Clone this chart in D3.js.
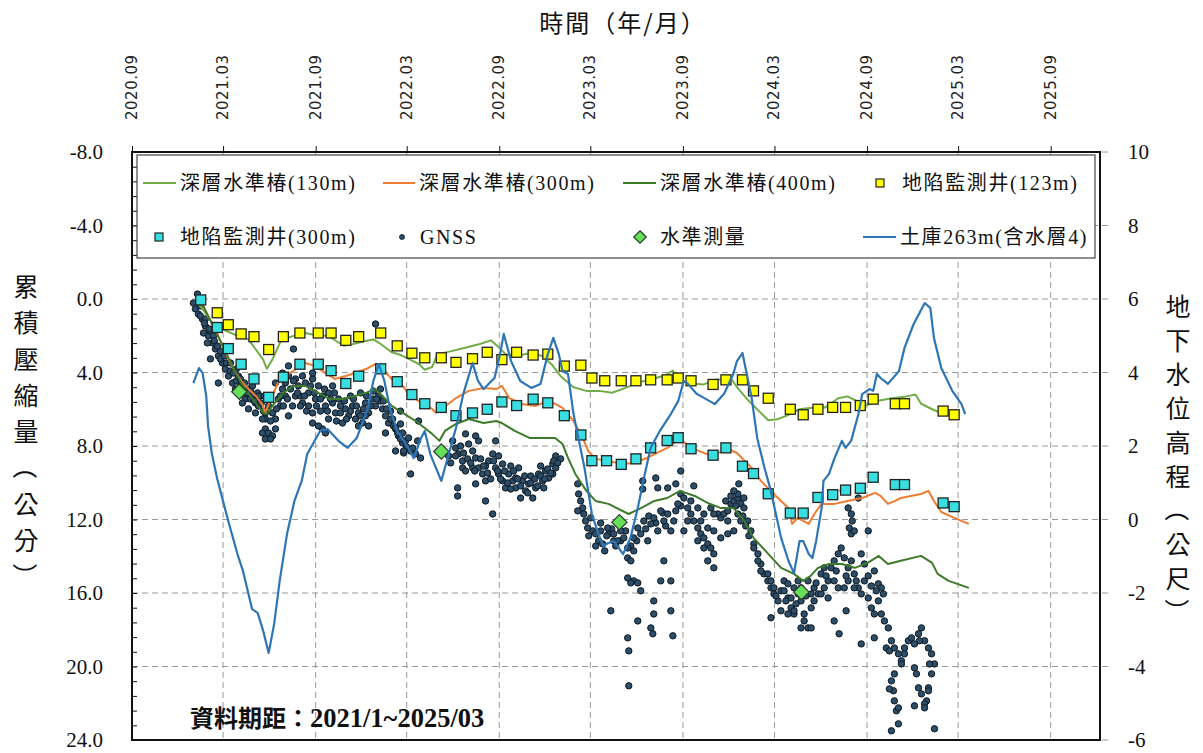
<!DOCTYPE html>
<html><head><meta charset="utf-8">
<script src="https://cdn.jsdelivr.net/npm/d3@7"></script>
<style>body{margin:0;background:#fff}svg{display:block}</style>
</head><body>
<svg id="c" width="1203" height="753"></svg>
<script>
// ---------- data ----------
const xTickDates = ["2020-09-01","2021-03-01","2021-09-01","2022-03-01","2022-09-01","2023-03-01","2023-09-01","2024-03-01","2024-09-01","2025-03-01","2025-09-01"];
const xTickLabels = ["2020.09","2021.03","2021.09","2022.03","2022.09","2023.03","2023.09","2024.03","2024.09","2025.03","2025.09"];
const leftTicks = [-8,-4,0,4,8,12,16,20,24];
const rightTicks = [10,8,6,4,2,0,-2,-4,-6];

// [decimal year, cm]
const bm130 = [[2021.01,0],[2021.05,0.55],[2021.10,1.25],[2021.16,1.65],[2021.24,2.0],[2021.30,2.2],[2021.34,2.75],[2021.38,3.3],[2021.40,3.8],[2021.43,3.3],[2021.48,2.2],[2021.55,2.0],[2021.61,1.85],[2021.68,2.0],[2021.73,2.0],[2021.78,2.3],[2021.82,2.55],[2021.87,2.45],[2021.93,2.3],[2021.98,2.2],[2022.02,2.45],[2022.08,2.9],[2022.13,3.05],[2022.18,3.3],[2022.23,3.55],[2022.26,3.85],[2022.30,3.7],[2022.33,3.0],[2022.40,2.85],[2022.48,2.65],[2022.56,2.45],[2022.62,2.25],[2022.66,2.6],[2022.70,3.0],[2022.76,3.1],[2022.83,2.95],[2022.90,3.1],[2022.95,3.55],[2023.00,4.2],[2023.07,4.8],[2023.14,5.0],[2023.21,5.0],[2023.28,5.1],[2023.35,4.85],[2023.42,4.55],[2023.50,4.35],[2023.57,4.15],[2023.61,3.9],[2023.65,4.45],[2023.71,4.6],[2023.78,4.65],[2023.84,4.4],[2023.93,4.35],[2023.96,4.8],[2024.02,5.5],[2024.08,6.1],[2024.13,6.6],[2024.18,6.55],[2024.24,6.3],[2024.30,6.0],[2024.38,5.9],[2024.44,5.9],[2024.51,5.4],[2024.56,5.3],[2024.61,5.55],[2024.66,5.8],[2024.72,5.55],[2024.80,5.4],[2024.88,5.3],[2024.93,5.2],[2024.96,5.7],[2025.02,6.0],[2025.08,6.25],[2025.13,6.3]];
const bm300 = [[2021.04,0.11],[2021.08,0.92],[2021.12,1.63],[2021.16,2.56],[2021.19,3.26],[2021.23,4.02],[2021.27,4.57],[2021.30,4.9],[2021.34,5.28],[2021.38,5.82],[2021.39,6.2],[2021.43,5.28],[2021.46,4.57],[2021.50,4.19],[2021.56,3.81],[2021.61,3.48],[2021.66,3.64],[2021.72,4.03],[2021.77,4.35],[2021.83,4.19],[2021.88,4.03],[2021.94,3.81],[2021.99,3.54],[2022.03,3.81],[2022.08,4.35],[2022.14,4.73],[2022.17,5.17],[2022.25,5.71],[2022.30,5.98],[2022.32,6.2],[2022.36,5.93],[2022.43,5.39],[2022.50,5.0],[2022.58,4.84],[2022.65,4.9],[2022.68,4.73],[2022.72,5.39],[2022.79,5.71],[2022.86,5.82],[2022.93,5.55],[2022.97,5.71],[2023.01,5.93],[2023.07,6.64],[2023.12,7.56],[2023.15,8.27],[2023.19,8.7],[2023.26,8.81],[2023.33,8.98],[2023.40,8.92],[2023.47,8.65],[2023.58,8.1],[2023.65,7.62],[2023.71,8.1],[2023.82,8.54],[2023.91,8.16],[2023.96,8.38],[2024.04,9.19],[2024.09,9.9],[2024.16,10.61],[2024.24,11.37],[2024.26,12.24],[2024.29,11.91],[2024.32,12.08],[2024.35,12.24],[2024.38,11.7],[2024.42,11.15],[2024.49,11.15],[2024.56,10.99],[2024.64,10.83],[2024.71,10.55],[2024.74,10.72],[2024.78,11.15],[2024.82,10.99],[2024.85,10.83],[2024.96,10.61],[2025.00,10.44],[2025.03,10.99],[2025.07,11.59],[2025.14,11.91],[2025.22,12.24]];
const bm400 = [[2021.04,0.11],[2021.08,0.92],[2021.16,2.56],[2021.23,4.03],[2021.28,4.9],[2021.34,5.66],[2021.38,6.2],[2021.40,6.26],[2021.43,5.82],[2021.49,5.11],[2021.54,4.73],[2021.61,4.73],[2021.68,5.11],[2021.74,5.44],[2021.81,5.44],[2021.88,5.28],[2021.94,5.11],[2021.99,4.9],[2022.03,5.28],[2022.08,5.82],[2022.14,6.2],[2022.21,6.64],[2022.26,7.02],[2022.30,7.34],[2022.34,7.72],[2022.37,7.18],[2022.43,6.8],[2022.50,6.53],[2022.58,6.75],[2022.65,6.64],[2022.68,6.75],[2022.75,7.18],[2022.83,7.56],[2022.90,7.56],[2022.97,7.56],[2023.01,7.89],[2023.04,8.65],[2023.08,9.52],[2023.14,10.44],[2023.19,10.99],[2023.26,11.15],[2023.37,11.7],[2023.44,11.37],[2023.51,10.99],[2023.58,10.83],[2023.65,10.44],[2023.73,10.72],[2023.80,11.1],[2023.87,11.37],[2023.94,11.37],[2024.00,12.08],[2024.05,13.0],[2024.13,13.87],[2024.20,14.63],[2024.27,14.96],[2024.32,15.34],[2024.36,15.07],[2024.40,14.63],[2024.46,14.42],[2024.53,14.42],[2024.60,14.63],[2024.67,14.36],[2024.73,13.98],[2024.78,14.42],[2024.85,14.25],[2024.96,13.98],[2025.02,14.36],[2025.05,14.96],[2025.11,15.34],[2025.22,15.72]];
const well123 = [[2021.13,0.75],[2021.19,1.4],[2021.26,1.9],[2021.33,2.05],[2021.41,2.75],[2021.49,2.05],[2021.58,1.85],[2021.68,1.85],[2021.75,1.85],[2021.83,2.25],[2021.90,2.05],[2022.02,1.85],[2022.11,2.55],[2022.19,2.95],[2022.26,3.2],[2022.35,3.2],[2022.43,3.45],[2022.52,3.25],[2022.60,2.9],[2022.68,3.3],[2022.76,2.9],[2022.85,3.05],[2022.93,3.0],[2023.02,3.65],[2023.11,3.6],[2023.17,4.3],[2023.24,4.45],[2023.33,4.45],[2023.41,4.45],[2023.49,4.4],[2023.58,4.4],[2023.64,4.3],[2023.71,4.45],[2023.83,4.65],[2023.90,4.4],[2023.99,4.4],[2024.05,5.0],[2024.13,5.4],[2024.25,6.0],[2024.32,6.3],[2024.40,6.0],[2024.48,5.9],[2024.55,5.9],[2024.63,5.8],[2024.70,5.45],[2024.82,5.7],[2024.87,5.7],[2025.08,6.1],[2025.14,6.3]];
const well300 = [[2021.04,0.05],[2021.13,1.55],[2021.19,2.7],[2021.26,3.55],[2021.33,4.35],[2021.41,5.35],[2021.49,4.25],[2021.58,3.55],[2021.68,3.55],[2021.75,3.9],[2021.83,4.6],[2021.90,4.2],[2022.02,3.8],[2022.11,4.5],[2022.19,5.2],[2022.26,5.7],[2022.35,5.9],[2022.43,6.35],[2022.52,6.2],[2022.60,6.0],[2022.68,5.6],[2022.76,5.8],[2022.85,5.45],[2022.93,5.65],[2023.02,6.35],[2023.11,7.4],[2023.17,8.8],[2023.25,8.8],[2023.33,9.0],[2023.41,8.7],[2023.49,8.1],[2023.58,7.7],[2023.64,7.55],[2023.71,8.15],[2023.83,8.5],[2023.90,8.1],[2023.99,9.1],[2024.05,9.5],[2024.13,10.6],[2024.25,11.65],[2024.32,11.65],[2024.40,10.8],[2024.48,10.65],[2024.55,10.4],[2024.63,10.3],[2024.70,9.7],[2024.82,10.1],[2024.87,10.1],[2025.08,11.1],[2025.14,11.3]];
const leveling = [[2021.25,5.05],[2022.35,8.3],[2023.32,12.15],[2024.31,15.95]];
// [decimal year, m] (right axis)
const tuku263 = [[2021.00,3.71],[2021.03,4.12],[2021.05,3.99],[2021.07,3.36],[2021.08,2.54],[2021.10,1.81],[2021.13,1.10],[2021.19,-0.04],[2021.24,-0.94],[2021.27,-1.40],[2021.32,-2.44],[2021.35,-2.54],[2021.38,-3.03],[2021.41,-3.63],[2021.44,-2.84],[2021.47,-1.67],[2021.51,-0.39],[2021.55,0.50],[2021.57,0.78],[2021.59,1.05],[2021.62,1.78],[2021.69,2.41],[2021.73,2.46],[2021.79,2.14],[2021.84,1.95],[2021.89,2.22],[2021.95,3.03],[2021.98,3.77],[2022.01,4.23],[2022.04,3.77],[2022.07,3.03],[2022.11,2.41],[2022.17,1.95],[2022.20,1.67],[2022.24,2.22],[2022.26,2.41],[2022.29,1.78],[2022.35,1.05],[2022.38,1.59],[2022.43,2.49],[2022.47,3.42],[2022.52,4.26],[2022.55,3.77],[2022.58,3.55],[2022.64,3.85],[2022.67,4.50],[2022.69,5.05],[2022.73,4.31],[2022.78,3.77],[2022.84,3.58],[2022.89,3.69],[2022.93,4.50],[2022.96,4.94],[2022.99,4.50],[2023.01,4.04],[2023.04,3.96],[2023.07,2.87],[2023.13,1.40],[2023.17,0.15],[2023.20,-0.31],[2023.23,-0.72],[2023.26,-0.64],[2023.29,-0.59],[2023.34,-0.94],[2023.38,-0.50],[2023.42,0.31],[2023.45,1.05],[2023.49,1.95],[2023.54,2.41],[2023.60,2.87],[2023.64,3.22],[2023.67,3.77],[2023.69,3.71],[2023.74,3.42],[2023.78,3.31],[2023.84,3.14],[2023.89,3.42],[2023.94,3.96],[2023.96,4.31],[2023.99,4.53],[2024.01,4.04],[2024.04,3.31],[2024.07,2.22],[2024.11,1.40],[2024.14,0.86],[2024.18,-0.04],[2024.20,-0.50],[2024.24,-1.13],[2024.27,-1.46],[2024.30,-0.59],[2024.32,-0.59],[2024.35,-0.94],[2024.37,-1.05],[2024.39,-0.59],[2024.42,0.31],[2024.43,1.05],[2024.46,1.24],[2024.49,1.67],[2024.53,2.14],[2024.55,1.95],[2024.58,2.14],[2024.62,2.87],[2024.64,3.41],[2024.68,3.55],[2024.70,3.50],[2024.72,3.96],[2024.74,3.85],[2024.78,3.69],[2024.84,4.04],[2024.87,4.67],[2024.92,5.32],[2024.98,5.89],[2025.01,5.76],[2025.03,4.94],[2025.07,4.12],[2025.13,3.50],[2025.18,3.14],[2025.20,2.87]];
// GNSS [decimal year, cm]
const gnss = [[2021.022,-0.27],[2021.000,0.22],[2021.011,0.54],[2021.027,0.82],[2021.049,1.09],[2021.038,0.38],[2021.065,1.47],[2021.055,1.85],[2021.082,2.01],[2021.104,2.39],[2021.076,2.39],[2021.120,2.72],[2021.093,3.26],[2021.136,3.10],[2021.158,3.48],[2021.174,3.81],[2021.136,4.57],[2021.191,4.19],[2021.213,4.57],[2021.229,4.90],[2021.245,4.19],[2021.267,5.11],[2021.283,5.44],[2021.267,5.66],[2021.300,4.90],[2021.322,5.28],[2021.338,5.66],[2021.354,5.82],[2021.322,4.73],[2021.349,5.11],[2021.300,5.98],[2021.392,6.20],[2021.392,6.53],[2021.431,6.20],[2021.447,6.53],[2021.409,5.82],[2021.392,7.07],[2021.376,7.29],[2021.409,7.29],[2021.431,7.45],[2021.392,7.62],[2021.420,7.62],[2021.447,7.07],[2021.463,5.44],[2021.485,4.90],[2021.501,4.57],[2021.518,4.19],[2021.501,5.28],[2021.540,5.82],[2021.518,6.36],[2021.556,5.28],[2021.572,4.73],[2021.594,4.19],[2021.610,4.57],[2021.627,5.11],[2021.649,4.35],[2021.594,5.66],[2021.627,5.82],[2021.665,5.44],[2021.649,6.20],[2021.681,4.73],[2021.703,5.28],[2021.719,5.82],[2021.736,5.11],[2021.758,5.66],[2021.703,7.07],[2021.736,6.53],[2021.774,6.20],[2021.790,5.44],[2021.812,6.75],[2021.828,5.98],[2021.845,6.36],[2021.867,5.82],[2021.883,6.53],[2021.899,6.20],[2021.921,6.75],[2021.937,5.66],[2021.954,6.20],[2021.976,5.44],[2021.992,5.82],[2022.008,5.28],[2022.030,5.98],[2022.046,6.36],[2022.063,6.75],[2022.085,6.53],[2022.101,7.07],[2022.117,7.45],[2022.139,7.83],[2022.145,8.38],[2021.992,1.36],[2021.545,2.72],[2021.447,4.57],[2021.485,4.03],[2021.518,3.64],[2021.649,4.03],[2021.758,4.73],[2021.681,6.91],[2021.649,6.75],[2021.719,7.29],[2021.954,6.91],[2021.899,6.91],[2022.046,7.29],
[2021.038,0.92],[2021.065,1.09],[2021.093,1.74],[2021.109,2.01],[2021.147,2.83],[2021.202,3.92],[2021.234,4.46],[2021.256,4.73],[2021.311,5.44],[2021.365,5.28],[2021.338,6.20],[2021.376,6.53],[2021.474,5.82],[2021.556,4.35],[2021.583,5.28],[2021.692,6.10],[2021.801,5.82],[2021.856,5.28],[2021.910,5.11],[2021.937,6.36],[2022.019,5.55],[2022.074,6.10],
[2021.060,1.31],[2021.087,1.63],[2021.114,2.28],[2021.131,2.56],[2021.147,3.26],[2021.169,3.10],[2021.180,3.48],[2021.202,3.48],[2021.218,4.03],[2021.234,3.81],[2021.256,4.35],[2021.278,4.57],[2021.289,5.11],[2021.311,5.01],[2021.332,5.55],[2021.354,5.28],[2021.370,5.66],[2021.381,6.09],[2021.420,6.64],[2021.452,5.98],[2021.474,5.28],[2021.490,5.82],[2021.512,5.44],[2021.529,4.90],[2021.545,4.46],[2021.567,5.11],[2021.583,5.82],[2021.605,5.28],[2021.616,6.10],[2021.638,4.73],[2021.659,5.11],[2021.670,5.82],[2021.692,5.44],[2021.714,4.90],[2021.730,6.10],[2021.747,5.44],[2021.768,5.11],[2021.779,6.64],[2021.801,6.20],[2021.823,5.55],[2021.834,6.53],[2021.856,6.10],[2021.872,5.44],[2021.888,5.82],[2021.910,6.36],[2021.926,5.98],[2021.943,5.28],[2021.965,5.82],[2021.981,5.01],[2021.997,5.44],[2022.019,4.90],[2022.035,5.55],[2022.052,5.98],[2022.074,6.53],[2022.090,6.91],[2022.112,7.29],[2022.128,7.62],[2022.161,8.05],[2022.183,8.27],
[2022.101,7.02],[2022.128,6.80],[2022.139,7.29],[2022.155,7.72],[2022.172,7.56],[2022.194,8.11],[2022.210,8.43],[2022.183,9.52],[2022.221,7.72],[2022.226,6.64],[2022.237,8.65],[2022.128,6.10],[2022.101,8.27],[2022.145,8.27],
[2022.412,7.72],[2022.428,8.11],[2022.444,8.43],[2022.466,8.81],[2022.482,7.34],[2022.499,7.89],[2022.521,8.27],[2022.537,8.65],[2022.553,7.72],[2022.466,9.19],[2022.521,9.19],[2022.553,9.19],[2022.575,9.52],[2022.537,10.06],[2022.591,9.90],[2022.608,8.81],[2022.630,8.43],[2022.646,9.19],[2022.662,9.52],[2022.684,9.90],[2022.700,10.28],[2022.684,8.98],[2022.717,9.52],[2022.739,9.90],[2022.755,10.28],[2022.771,9.19],[2022.793,9.90],[2022.809,10.44],[2022.826,10.06],[2022.848,10.83],[2022.864,10.28],[2022.880,9.52],[2022.902,9.90],[2022.918,9.36],[2022.935,9.74],[2022.957,8.98],[2022.973,9.19],[2022.439,10.28],[2022.439,10.72],[2022.630,11.70],[2022.591,10.99],[2022.537,7.45],[2022.646,7.72],[2022.755,9.74],[2022.908,10.28],[2022.957,9.52],[2022.390,8.54],[2022.401,8.92],[2022.482,9.36],[2022.591,9.09],[2022.728,9.09],[2022.837,9.63],[2022.891,9.09],[2022.973,8.54],[2023.000,8.70],[2022.662,8.54],[2022.782,10.83],
[2022.428,8.54],[2022.455,8.00],[2022.471,8.38],[2022.493,8.70],[2022.510,8.92],[2022.532,9.36],[2022.564,8.70],[2022.580,9.09],[2022.602,9.47],[2022.619,9.79],[2022.635,8.81],[2022.657,9.36],[2022.673,9.79],[2022.695,9.36],[2022.711,10.01],[2022.728,10.34],[2022.744,9.36],[2022.766,9.79],[2022.782,10.17],[2022.804,9.63],[2022.820,10.55],[2022.837,10.01],[2022.859,9.79],[2022.875,10.17],[2022.891,9.63],[2022.913,9.79],[2022.929,9.25],[2022.946,9.47],[2022.962,8.81],[2022.984,8.92],
[2023.093,10.06],[2023.098,10.61],[2023.109,10.99],[2023.120,11.37],[2023.126,11.70],[2023.136,12.08],[2023.147,12.46],[2023.164,11.91],[2023.175,12.62],[2023.191,12.78],[2023.207,13.16],[2023.229,13.33],[2023.262,12.78],[2023.289,13.16],[2023.093,11.53],[2023.218,12.19],[2023.153,12.89],[2023.191,13.44],[2023.240,13.71],
[2023.251,12.89],[2023.278,12.51],[2023.300,13.44],[2023.327,13.16],[2023.354,12.62],[2023.382,13.44],[2023.414,13.16],[2023.463,12.51],[2023.480,11.81],[2023.518,12.19],[2023.556,11.64],[2023.572,12.35],[2023.627,11.53],[2023.654,11.26],
[2023.218,12.62],[2023.256,12.46],[2023.289,12.78],[2023.311,13.16],[2023.327,12.62],[2023.344,13.00],[2023.365,13.55],[2023.365,14.09],[2023.382,14.25],[2023.398,13.71],[2023.398,13.00],[2023.420,12.46],[2023.436,12.78],[2023.453,12.08],[2023.474,13.16],[2023.491,12.24],[2023.507,11.91],[2023.529,12.62],[2023.545,11.53],[2023.562,12.08],[2023.583,11.70],[2023.600,12.62],[2023.616,12.08],[2023.638,11.15],[2023.654,10.61],[2023.671,10.83],[2023.692,11.37],[2023.709,11.70],[2023.725,12.08],[2023.747,12.46],[2023.763,12.78],[2023.780,13.00],[2023.801,13.33],[2023.818,13.55],[2023.834,13.87],[2023.856,11.70],[2023.872,11.91],[2023.889,11.70],[2023.910,11.53],[2023.927,11.15],[2023.943,10.99],[2023.965,10.83],[2023.981,11.15],[2023.998,11.37],[2024.019,12.08],[2024.036,12.62],[2024.052,13.33],[2024.074,13.87],[2024.090,14.42],[2024.107,14.96],[2024.128,15.34],[2024.145,15.72],[2024.161,16.05],[2024.183,16.43],[2024.199,15.88],[2024.216,15.34],[2024.237,16.27],[2024.254,16.81],[2024.270,17.14],[2024.292,16.05],[2024.308,16.43],[2024.325,17.14],[2024.346,17.90],[2024.363,16.81],[2024.379,15.72],[2024.401,16.05],[2024.417,14.96],[2024.434,14.63],[2024.455,15.34],[2024.472,14.63],[2024.488,14.25],[2024.510,13.87],[2024.526,13.55],[2024.543,14.09],[2024.564,14.63],[2024.581,14.25],[2024.597,14.96],[2024.619,15.72],[2024.635,16.05],[2024.652,15.34],[2024.673,16.27],[2024.690,16.81],[2024.706,17.14],[2024.728,16.43],[2024.744,17.14],[2024.761,17.52],[2024.782,17.90],[2024.771,18.99],[2024.788,19.15],[2024.564,11.37],[2024.581,11.70],[2024.570,12.46],[2024.581,12.78],[2024.673,12.62],
[2023.273,16.97],[2023.365,18.44],[2023.371,19.15],[2023.371,21.05],[2023.420,17.52],[2023.491,17.90],[2023.502,18.22],[2023.507,17.14],[2023.600,16.97],[2023.611,18.33],[2023.600,15.34],[2023.545,15.34],[2023.398,15.34],[2023.436,15.88],[2023.507,16.43],[2023.562,14.25],[2023.365,15.18],[2023.382,15.45],[2023.420,15.45],
[2023.518,9.74],[2023.529,10.28],[2023.447,9.90],[2023.447,10.34],[2023.654,9.36],[2023.627,10.06],[2023.725,10.17],[2023.583,10.28],
[2023.763,12.08],[2023.801,12.46],[2023.834,12.62],[2023.872,13.00],[2023.910,12.78],[2023.943,12.62],[2023.981,12.08],[2023.965,11.70],[2023.910,12.08],[2023.834,11.70],[2023.818,11.37],[2023.780,11.70],[2023.747,11.37],[2023.709,10.99],[2023.692,12.08],[2023.671,12.62],[2023.747,13.16],[2023.780,13.55],[2023.801,14.25],[2023.834,14.63],[2023.965,10.61],[2023.943,10.44],[2023.970,10.06],[2023.998,10.83],
[2023.899,10.99],[2023.927,10.72],[2023.954,11.26],[2023.992,11.81],[2024.008,12.35],[2024.025,12.89],
[2024.052,13.55],[2024.074,14.25],[2024.090,14.80],[2024.128,14.96],[2024.145,15.34],[2024.161,15.72],[2024.216,15.88],[2024.237,15.50],[2024.254,16.27],[2024.270,15.72],[2024.292,15.34],[2024.308,15.72],[2024.346,15.34],[2024.363,16.05],[2024.379,16.43],[2024.417,16.05],[2024.434,15.72],[2024.455,16.27],[2024.488,15.34],[2024.510,15.72],[2024.543,15.72],[2024.564,15.34],[2024.597,15.72],[2024.145,17.35],[2024.199,16.97],[2024.237,17.14],[2024.270,16.97],[2024.308,17.90],[2024.325,17.52],[2024.363,17.90],[2024.488,17.52],[2024.515,18.22],[2024.553,16.97],[2024.635,18.77],[2024.706,18.44],[2024.586,12.08],[2024.597,12.62],[2024.619,10.83],[2024.537,10.44],[2024.728,15.50],[2024.744,15.72],[2024.755,16.05],
[2024.172,16.16],[2024.226,16.43],[2024.281,16.59],[2024.335,16.16],[2024.390,15.45],[2024.444,15.07],[2024.499,14.80],[2024.553,15.07],[2024.608,15.34],
[2024.635,13.87],[2024.652,14.42],[2024.673,15.07],[2024.690,15.62],[2024.717,15.88],[2024.706,14.80],
[2024.799,18.60],[2024.815,18.99],[2024.837,19.31],[2024.853,19.69],[2024.870,18.99],[2024.891,18.60],[2024.908,18.44],[2024.924,18.77],[2024.946,18.22],[2024.962,17.90],[2024.979,18.60],[2025.000,18.99],[2025.017,19.31],[2025.033,19.86],[2024.815,20.40],[2024.799,20.78],[2024.810,21.32],[2024.815,21.87],[2024.826,22.41],[2024.935,20.40],[2024.946,21.16],[2024.962,21.49],[2024.990,21.87],[2025.000,21.16],[2025.017,20.40],[2025.006,19.86],[2024.799,23.50],[2024.837,23.12],[2025.033,23.39],[2024.924,22.14],[2024.979,22.03],[2024.853,19.86],[2024.870,19.31],[2024.951,18.60],[2024.924,20.07],[2025.000,21.32],[2024.979,22.25],[2024.788,21.22],[2024.837,22.25]];

const legendRow1 = ["深層水準椿(130m)","深層水準椿(300m)","深層水準椿(400m)","地陷監測井(123m)"];
const legendRow2 = ["地陷監測井(300m)","GNSS","水準測量","土庫263m(含水層4)"];
const leftTitle = ["累","積","壓","縮","量","（","公","分","）"];
const rightTitle = ["地","下","水","位","高","程","（","公","尺","）"];

// ---------- setup ----------
const svg = d3.select("#c");
const X0 = 132, X1 = 1100, Y0 = 152, Y1 = 740;
const x = d3.scaleUtc().domain([new Date(Date.UTC(2020,8,1)), new Date(Date.UTC(2025,11,8))]).range([X0, X1]);
const yL = d3.scaleLinear().domain([-8, 24]).range([Y0, Y1]);
const yR = d3.scaleLinear().domain([10, -6]).range([Y0, Y1]);
function dy(v){ const yr = Math.floor(v); const s = Date.UTC(yr,0,1), e = Date.UTC(yr+1,0,1); return new Date(s + (v-yr)*(e-s)); }
const tickDates = xTickDates.map(s => new Date(s + "T00:00:00Z"));
const SERIF = "'Liberation Serif','Noto Sans CJK TC',serif";
const CJK = "'Noto Sans CJK TC','Liberation Serif',sans-serif";

svg.append("rect").attr("width",1203).attr("height",753).attr("fill","#fff");

// grid
const grid = svg.append("g").attr("stroke","#9a9a9a").attr("stroke-width",1).attr("stroke-dasharray","6,4");
grid.selectAll("line.h").data(rightTicks).join("line")
  .attr("x1", X0).attr("x2", X1 + 9).attr("y1", d => yR(d)).attr("y2", d => yR(d));
grid.selectAll("line.v").data(tickDates.slice(1)).join("line")
  .attr("x1", d => x(d)).attr("x2", d => x(d)).attr("y1", Y0).attr("y2", Y1);

// GNSS dots
svg.append("g").selectAll("circle").data(gnss).join("circle")
  .attr("cx", d => x(dy(d[0]))).attr("cy", d => yL(d[1])).attr("r", 3.2)
  .attr("fill", "#2e4d66").attr("stroke", "#0c1a26").attr("stroke-width", 1);

// lines
const lineL = d3.line().x(d => x(dy(d[0]))).y(d => yL(d[1]));
const lineR = d3.line().x(d => x(dy(d[0]))).y(d => yR(d[1]));
const addLine = (data, gen, col, w) => svg.append("path").datum(data).attr("d", gen)
  .attr("fill","none").attr("stroke",col).attr("stroke-width",w).attr("stroke-linejoin","round");
addLine(bm130, lineL, "#70ad47", 2);
addLine(bm300, lineL, "#ed7d31", 2);
addLine(bm400, lineL, "#3d7a2a", 2);

// squares
const sq = 10;
const addSquares = (data, col) => svg.append("g").selectAll("rect").data(data).join("rect")
  .attr("x", d => x(dy(d[0])) - sq/2).attr("y", d => yL(d[1]) - sq/2).attr("width", sq).attr("height", sq)
  .attr("fill", col).attr("stroke", "#222").attr("stroke-width", 1.3);
addSquares(well123, "#ffff00");
addSquares(well300, "#38dfe0");

// diamonds
const diamond = d3.symbol().type(d3.symbolDiamond2).size(150);
svg.append("g").selectAll("path").data(leveling).join("path")
  .attr("d", diamond).attr("transform", d => `translate(${x(dy(d[0]))},${yL(d[1])})`)
  .attr("fill", "#66e05a").attr("stroke", "#2a3a2a").attr("stroke-width", 1.2);

// groundwater line
addLine(tuku263, lineR, "#2e75b6", 2.2);

// frame
svg.append("rect").attr("x", X0).attr("y", Y0).attr("width", X1 - X0).attr("height", Y1 - Y0)
  .attr("fill","none").attr("stroke","#111").attr("stroke-width",2);

// left axis: labels + inward minor ticks
const gl = svg.append("g").attr("transform",`translate(${X0},0)`)
  .call(d3.axisLeft(yL).tickValues(leftTicks).tickSize(0).tickPadding(29).tickFormat(d => d.toFixed(1)));
gl.select(".domain").remove();
gl.selectAll("text").attr("font-family", SERIF).attr("font-size", 21).attr("fill","#111");
const glm = svg.append("g").attr("transform",`translate(${X0},0)`)
  .call(d3.axisRight(yL).tickValues(d3.range(0, 41).map(i => -8 + i*0.8)).tickSize(5).tickFormat(""));
glm.select(".domain").remove();
glm.selectAll("line").attr("stroke","#111").attr("stroke-width",1);

// right axis labels
const gr = svg.append("g").attr("transform",`translate(${X1},0)`)
  .call(d3.axisRight(yR).tickValues(rightTicks).tickSize(0).tickPadding(28).tickFormat(d => String(d)));
gr.select(".domain").remove();
gr.selectAll("text").attr("font-family", SERIF).attr("font-size", 21).attr("fill","#111");

// top axis
const gt = svg.append("g").attr("transform",`translate(0,${Y0})`)
  .call(d3.axisTop(x).tickValues(tickDates).tickSize(6).tickFormat(""));
gt.select(".domain").remove();
gt.selectAll("line").attr("stroke","#111");
svg.append("g").selectAll("text").data(tickDates).join("text")
  .attr("transform", (d,i) => `translate(${x(d) + 5},120) rotate(-90)`)
  .attr("font-family","'DejaVu Sans',sans-serif").attr("font-size",15).attr("letter-spacing",0.5).attr("fill","#222")
  .text((d,i) => xTickLabels[i]);

// titles
svg.append("text").attr("x", 623).attr("y", 32).attr("text-anchor","middle")
  .attr("font-family", CJK).attr("font-size", 24).attr("letter-spacing", 2).attr("fill","#111")
  .text("時間（年/月）");
const vertTitle = (chars, cx, y0, step) => svg.append("g").selectAll("text").data(chars).join("text")
  .attr("text-anchor","middle").attr("dominant-baseline","central")
  .attr("transform", (d,i) => `translate(${cx},${y0 + i*step})` + ((d === "（" || d === "）") ? " rotate(90)" : ""))
  .attr("font-family", CJK).attr("font-size", 25).attr("fill","#111").text(d => d);
vertTitle(leftTitle, 26, 285, 36.3);
vertTitle(rightTitle, 1178, 305, 34);

// footnote
const fn = svg.append("text").attr("x", 190).attr("y", 727).attr("font-family", SERIF)
  .attr("font-weight","bold").attr("fill","#111");
fn.append("tspan").attr("font-size", 24).text("資料期距：");
fn.append("tspan").attr("font-size", 26.5).text("2021/1~2025/03");

// legend
const lg = svg.append("g");
lg.append("rect").attr("x",137).attr("y",155).attr("width",958).attr("height",103)
  .attr("fill","#fff").attr("stroke","#444").attr("stroke-width",1.2);
const r1 = 183, r2 = 237;
const legText = (tx, ty, s) => lg.append("text").attr("x", tx).attr("y", ty + 7)
  .attr("font-family", SERIF).attr("font-size", 20).attr("letter-spacing", 1.6).attr("fill","#111").text(s);
const legLine = (x1, x2, ty, col) => lg.append("line").attr("x1",x1).attr("x2",x2).attr("y1",ty).attr("y2",ty)
  .attr("stroke",col).attr("stroke-width",2);
legLine(143,176,r1,"#70ad47"); legText(180,r1,legendRow1[0]);
legLine(383,415,r1,"#ed7d31"); legText(419,r1,legendRow1[1]);
legLine(623,656,r1,"#3d7a2a"); legText(660,r1,legendRow1[2]);
lg.append("rect").attr("x",876).attr("y",r1-4).attr("width",8).attr("height",8).attr("fill","#ffff00").attr("stroke","#222").attr("stroke-width",1.2);
legText(902,r1,legendRow1[3]);
lg.append("rect").attr("x",155).attr("y",r2-4).attr("width",8).attr("height",8).attr("fill","#38dfe0").attr("stroke","#222").attr("stroke-width",1.2);
legText(180,r2,legendRow2[0]);
lg.append("circle").attr("cx",402).attr("cy",r2).attr("r",2.5).attr("fill","#2e4d66").attr("stroke","#0c1a26").attr("stroke-width",0.8);
legText(420,r2,legendRow2[1]);
lg.append("path").attr("d", d3.symbol().type(d3.symbolDiamond2).size(100)).attr("transform",`translate(640,${r2})`)
  .attr("fill","#66e05a").attr("stroke","#2a3a2a").attr("stroke-width",1.2);
legText(660,r2,legendRow2[2]);
legLine(863,896,r2,"#2e75b6"); legText(900,r2,legendRow2[3]);
</script>
</body></html>
